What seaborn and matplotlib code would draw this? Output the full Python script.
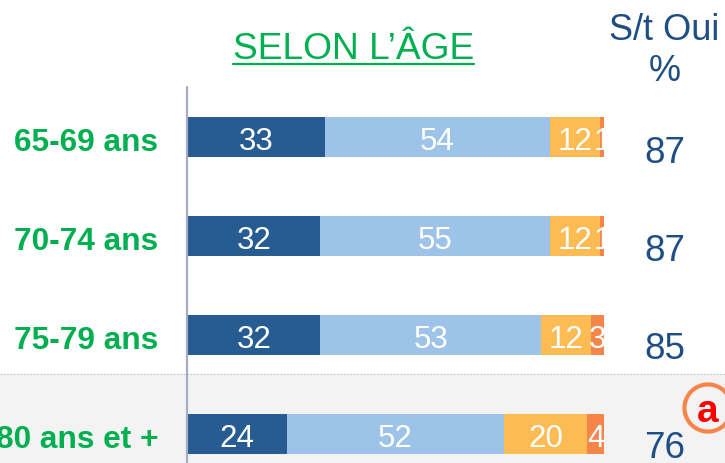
import matplotlib
matplotlib.use("Agg")
import matplotlib.pyplot as plt
import numpy as np
import pandas as pd
import seaborn as sns

categories = ["65-69 ans", "70-74 ans", "75-79 ans", "80 ans et +"]
tres = [33, 32, 32, 24]
assez = [54, 55, 53, 52]
peu = [12, 12, 12, 20]
pas = [1, 1, 3, 4]
st_oui = [87, 87, 85, 76]
series_colors = ["#265C91", "#9DC3E9", "#FDBB54", "#F58549"]
title = "SELON L’ÂGE"
st_header = "S/t Oui\n%"

W, H = 725, 464
sns.set_theme(style="white")
plt.rcParams["font.family"] = ["Liberation Sans", "DejaVu Sans"]

fig = plt.figure(figsize=(W / 100, H / 100), dpi=100)
ax = fig.add_axes([0, 0, 1, 1])

px0, pxu = 187.0, 4.17
py0, pyu = 137.8, 99.2

series = np.array([tres, assez, peu, pas], dtype=float)
cum = series.cumsum(axis=0)
for i in range(3, -1, -1):
    df = pd.DataFrame({"cat": categories, "val": cum[i]})
    sns.barplot(data=df, x="val", y="cat", order=categories, color=series_colors[i],
                saturation=1, width=40 / pyu, linewidth=0, ax=ax, zorder=3)

ax.set_xlim(-px0 / pxu, (W - px0) / pxu)
ax.set_ylim((H - py0) / pyu, -py0 / pyu)
ax.axis("off")

def dy(py):
    return (py - py0) / pyu

def dx(px):
    return (px - px0) / pxu

# shaded band and dotted separator
ax.axhspan(dy(375), dy(H), color="#F3F3F3", lw=0, zorder=0)
ax.plot([dx(0), dx(W)], [dy(375), dy(375)], color="#C4C4C4", lw=0.8, ls=(0, (1.5, 1.5)), zorder=1)
# vertical axis
ax.plot([dx(186.5), dx(186.5)], [dy(88), dy(H)], color="#A6ACC2", lw=1.6, zorder=4)

# segment labels
for i in range(4):
    left = cum[i] - series[i]
    for r in range(4):
        ax.text(left[r] + series[i][r] / 2, r + 0.04, f"{int(series[i][r])}", color="white",
                ha="center", va="center", fontsize=22.5, zorder=5)

# category labels
for r, c in enumerate(categories):
    ax.text(dx(158), r + 0.05, c, color="#00B050", fontweight="bold", fontsize=22.8,
            ha="right", va="center", zorder=5)

# S/t Oui column
for r, v in enumerate(st_oui):
    ax.text(dx(665), dy(153.5 + 98.2 * r), str(v), color="#1F4E85", fontsize=26.5,
            ha="center", va="center", zorder=5)

ax.text(dx(664.5), dy(51), st_header, color="#1F4E85", fontsize=26, ha="center", va="center",
        linespacing=1.2, zorder=5)

# title with underline
ax.text(dx(354), dy(49.5), title, color="#00B050", fontsize=26.7, ha="center", va="center", zorder=5)
ax.plot([dx(233), dx(474)], [dy(65), dy(65)], color="#00B050", lw=1.6, zorder=5)

# significance marker
ax.scatter([dx(708)], [dy(409)], s=1150, facecolors="none", edgecolors="#F58549", linewidths=3, zorder=6, clip_on=False)
ax.text(dx(708), dy(412), "a", color="#FF0000", fontweight="bold", fontsize=28, ha="center", va="center", zorder=7)

fig.savefig("out.png", dpi=100)
